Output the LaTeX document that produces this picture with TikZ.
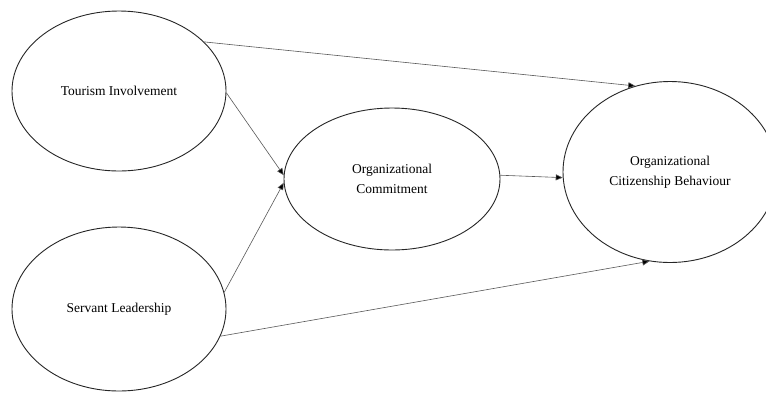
\documentclass[tikz,border=0pt]{standalone}
\usepackage{fontspec}
\setmainfont{Liberation Serif}
\usetikzlibrary{arrows.meta,shapes.geometric}

\tikzset{
	construct/.style={ellipse, draw=black!85, line width=0.9pt, inner sep=0pt, align=center,
		font=\fontsize{13.5}{19.5}\selectfont},
	path/.style={draw=black!65, line width=0.6pt, -{Triangle[length=7pt,width=6pt,fill=black]}}
}

\begin{document}
\begin{tikzpicture}[x=1pt,y=-1pt]
		\clip (0,0) rectangle (766,392);
		\fill[white] (0,0) rectangle (766,392);

		\draw (119,91) node [construct, minimum width=214pt, minimum height=160pt] (ti) {Tourism Involvement};
		\draw (119,309) node [construct, minimum width=214pt, minimum height=164pt] (sl) {Servant Leadership};
		\draw (392,179) node [construct, minimum width=216pt, minimum height=142pt] (oc) {Organizational\\Commitment};
		\draw (670,172) node [construct, minimum width=214pt, minimum height=181pt] (ocb) {Organizational\\Citizenship Behaviour};

		\draw
			(ti.30) edge [path] (ocb.112)
			(ti.-1) edge [path] (oc.178)
			(sl.9) edge [path] (oc.182)
			(sl.-15) edge [path] (ocb.-103.5)
			(oc.2) edge [path] (ocb.183)
		;
	\end{tikzpicture}
\end{document}
